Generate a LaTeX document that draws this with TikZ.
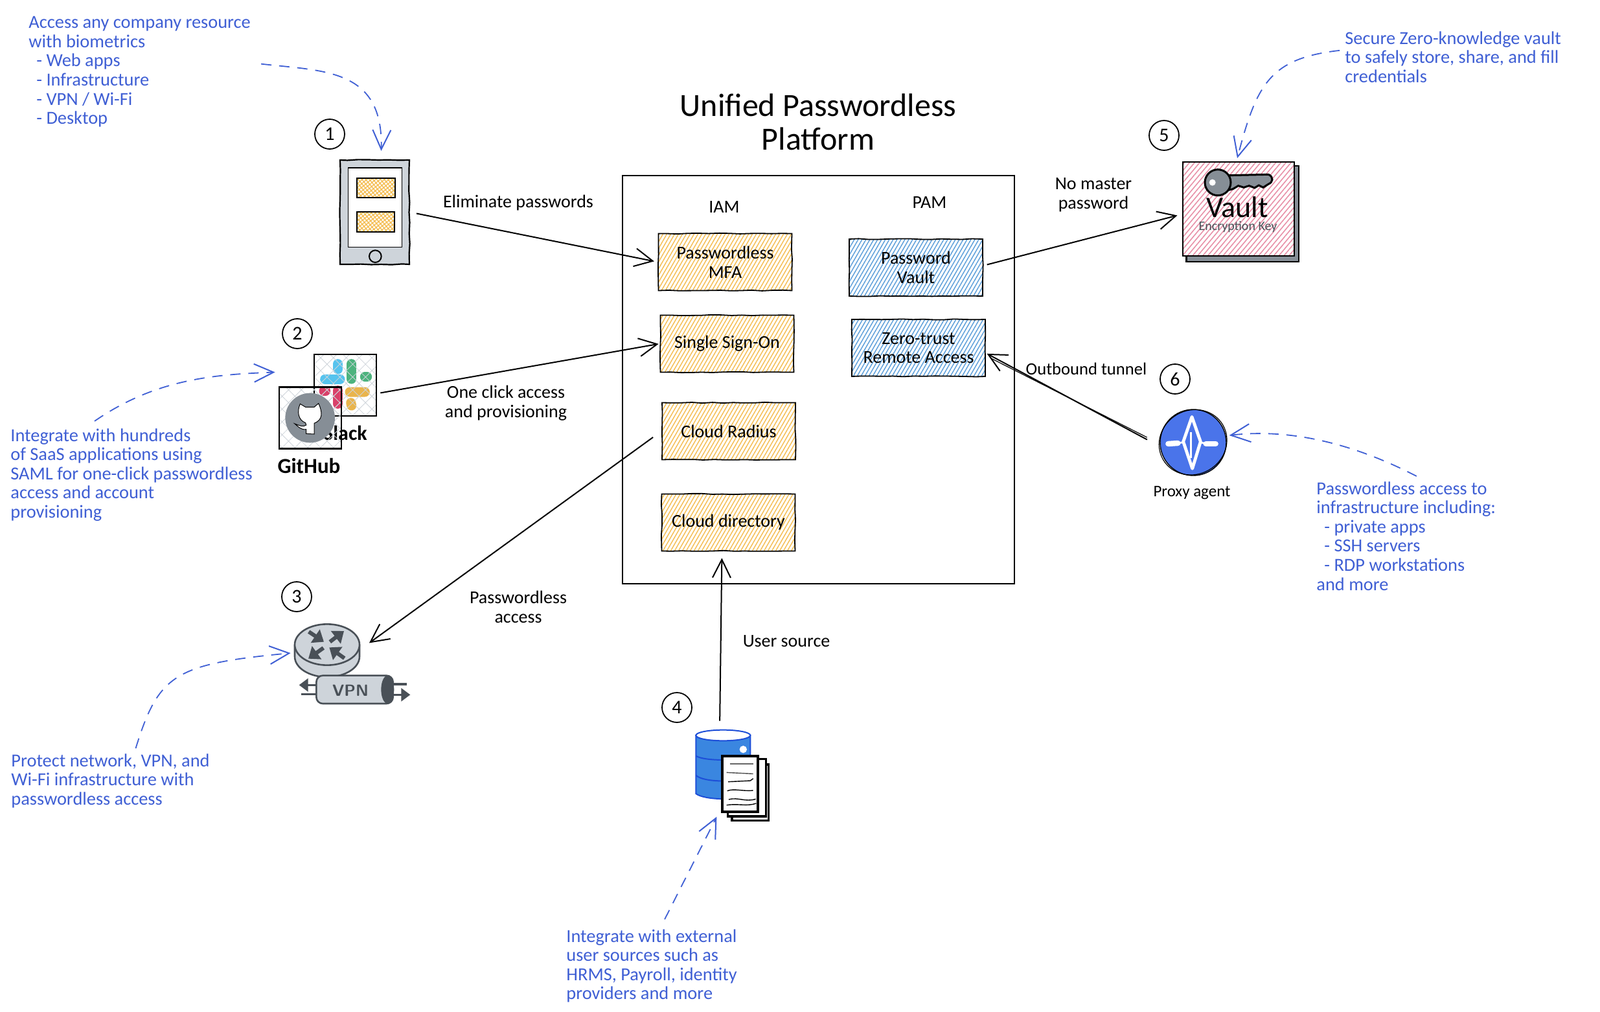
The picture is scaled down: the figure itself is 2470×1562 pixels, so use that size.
\documentclass[tikz,border=0pt]{standalone}
\usepackage{fontspec}
\setmainfont{Carlito}
\usetikzlibrary{arrows.meta,decorations.pathmorphing,patterns.meta}
\definecolor{hatchorange}{HTML}{F5BE55}
\definecolor{hatchblue}{HTML}{5FA0DA}
\definecolor{hatchpink}{HTML}{E891A8}
\definecolor{notecolor}{HTML}{3F5FD4}
\definecolor{iconfill}{HTML}{CED4DA}
\definecolor{icondark}{HTML}{495057}
\definecolor{catgray}{HTML}{868E96}
\definecolor{proxyblue}{HTML}{4A74EA}
\definecolor{dbblue}{HTML}{3A86E0}
\definecolor{dbline}{HTML}{1D4ED8}
\definecolor{slackblue}{HTML}{56C3EE}
\definecolor{slackgreen}{HTML}{4DB37E}
\definecolor{slackyellow}{HTML}{E9B44C}
\definecolor{slackred}{HTML}{D9416A}
\tikzset{
  sketch/.style={decorate,decoration={random steps,segment length=8pt,amplitude=.35pt}},
  txt/.style={font=\fontsize{14}{14.8}\selectfont,align=center,inner sep=0pt},
  hatchbox/.style={txt,draw=black,line width=.9pt,sketch,minimum width=103pt,minimum height=44pt,
    pattern={Lines[angle=60,distance=2.6pt,line width=.75pt]}},
  iambox/.style={hatchbox,pattern color=hatchorange},
  pambox/.style={hatchbox,pattern color=hatchblue},
  numcirc/.style={txt,draw=black,circle,line width=.9pt,minimum size=23pt,font=\fontsize{15}{15}\selectfont},
  note/.style={txt,anchor=north west,align=left,text=notecolor,font=\fontsize{14.2}{14.8}\selectfont},
  conn/.style={draw=black,line width=1pt,-{Straight Barb[length=14pt,width=14pt]}},
  noteline/.style={draw=notecolor,line width=.9pt,dash pattern=on 8pt off 6pt,
    -{Straight Barb[length=15pt,width=14pt,line width=1pt]}},
  zm/.style={shift={(#1)},x=.16667pt,y=-.16667pt},
  crossorange/.style={draw=black,line width=1pt,pattern={Hatch[angle=40,distance=2.2pt,line width=.7pt]},pattern color=hatchorange},
  crossgray/.style={draw=black,line width=1.2pt,pattern={Hatch[angle=45,distance=7pt,line width=.4pt]},pattern color=iconfill},
}
\begin{document}
\begin{tikzpicture}[x=.5pt,y=-.5pt]
  \useasboundingbox (0,0) rectangle (2470,1562);

  \node[draw=black,line width=.8pt,minimum width=302.5pt,minimum height=315pt] (platform) at (1263.5,586) {};
  \node[txt,font=\fontsize{25}{26}\selectfont] (title) at (1263,188) {Unified Passwordless\\Platform};
  \node[txt] (iam) at (1118,320) {IAM};
  \node[txt] (pam) at (1435,313) {PAM};

  \node[iambox] (mfa) at (1119.5,404.5) {Passwordless\\MFA};
  \node[iambox] (sso) at (1122.5,530.5) {Single Sign-On};
  \node[iambox] (radius) at (1125,665.5) {Cloud Radius};
  \node[iambox] (directory) at (1124.5,806.5) {Cloud directory};
  \node[pambox] (pvault) at (1414,413) {Password\\Vault};
  \node[pambox] (zerotrust) at (1418,537) {Zero-trust\\Remote Access};

  % tablet
  \node[draw=black,fill=iconfill,line width=1.1pt,sketch,minimum width=53.5pt,minimum height=80.5pt] (tablet) at (578.5,327.5) {};
  \begin{scope}[zm={500,190}]
    \draw[fill=white,line width=.8pt] (113,207) rectangle (362,575);
    \draw[crossorange] (152,254) rectangle (330,345);
    \draw[crossorange] (152,410) rectangle (328,505);
    \draw[line width=1pt] (238,617) circle[radius=28];
  \end{scope}
  \node[numcirc] (n1) at (509,207) {1};

  % slack and github
  \begin{scope}[zm={400,480},line cap=round]
    \draw[line width=7.5pt,color=slackblue] (365,245) -- (365,270) (305,315) -- (375,315);
    \draw[line width=7.5pt,color=slackgreen] (428,245) -- (428,315) (490,305) -- (500,305);
    \draw[line width=7.5pt,color=slackyellow] (420,375) -- (490,375) (425,425) -- (428,438);
    \draw[line width=7.5pt,color=slackred] (300,370) -- (308,370) (365,368) -- (365,430);
  \end{scope}
  \node[crossgray,minimum width=48pt,minimum height=47.5pt] (slack) at (533,594.5) {};
  \node[txt,font=\bfseries\fontsize{16}{16}\selectfont] (slacklabel) at (533,668) {Slack};
  \node[crossgray,minimum width=48pt,minimum height=47.5pt] (github) at (479,645) {};
  \begin{scope}[zm={400,480}]
    \fill[catgray] (236,495) circle[radius=115];
    \draw[fill=white,line width=.5pt] (190,430) -- (215,445) -- (255,445) -- (275,428)
      .. controls (295,470) and (295,505) .. (255,520) -- (255,570) -- (218,568) -- (218,548)
      .. controls (195,552) and (180,535) .. (165,522) .. controls (185,530) and (205,540) .. (218,528)
      -- (215,518) .. controls (180,505) and (175,465) .. (190,430) -- cycle;
  \end{scope}
  \node[txt,font=\bfseries\fontsize{16.5}{16.5}\selectfont] (githublabel) at (477,719) {GitHub};
  \node[numcirc] (n2) at (459,515) {2};

  % router and vpn tube
  \node[minimum width=50pt,minimum height=41pt,inner sep=0pt] (router) at (505,1003) {};
  \begin{scope}[zm={420,900},draw=icondark,line width=1.3pt]
    \draw[fill=iconfill] (105,290) -- (105,340) arc[start angle=180,end angle=0,x radius=150,y radius=95] -- (405,290) -- cycle;
    \draw[fill=iconfill] (255,285) ellipse[x radius=150,y radius=95];
    \draw[line width=3pt,-{Triangle[length=8pt,width=12pt]}] (170,225) -- (240,272);
    \draw[line width=3pt,-{Triangle[length=8pt,width=12pt]}] (268,272) -- (333,222);
    \draw[line width=3pt,-{Triangle[length=8pt,width=12pt]}] (238,300) -- (168,350);
    \draw[line width=3pt,-{Triangle[length=8pt,width=12pt]}] (335,348) -- (265,298);
    \draw[line width=1.6pt,-{Triangle[length=7pt,width=10pt]}] (205,472) -- (125,472);
    \draw[line width=1.6pt] (205,515) -- (135,515);
    \draw[line width=1.6pt] (560,468) -- (625,468);
    \draw[line width=1.6pt,-{Triangle[length=7pt,width=10pt]}] (560,517) -- (640,517);
    \draw[fill=iconfill,rounded corners=5pt] (205,428) rectangle (560,558);
    \fill[icondark] (535,493) ellipse[x radius=30,y radius=65];
  \end{scope}
  \node[inner sep=0pt,text=icondark,font=\sffamily\bfseries\fontsize{12.5}{13}\selectfont] (vpn) at (541,1066) {VPN};
  \node[numcirc] (n3) at (458,921) {3};

  % database and sheets
  \node[minimum width=42pt,minimum height=54pt,inner sep=0pt] (dbank) at (1116,1179) {};
  \begin{scope}[zm={1030,1060},draw=dbline,line width=1pt]
    \draw[fill=dbblue] (133,225) -- (133,495) .. controls (170,525) and (340,530) .. (385,495) -- (385,225) -- cycle;
    \draw[fill=white] (259,225) ellipse[x radius=126,y radius=25];
    \draw (133,320) .. controls (170,345) and (340,345) .. (385,320);
    \draw (133,410) .. controls (170,445) and (340,445) .. (385,410);
    \fill[white] (352,290) circle[radius=17];
    \draw[fill=white,draw=black,line width=1.6pt] (300,360) rectangle (470,620);
    \draw[fill=white,draw=black,line width=1.6pt] (280,335) rectangle (458,600);
  \end{scope}
  \node[draw=black,fill=white,line width=1.6pt,minimum width=27.5pt,minimum height=43pt,inner sep=0pt] (sheets) at (1142.5,1210) {};
  \begin{scope}[zm={1030,1060},black,line width=.7pt]
    \draw[line width=1pt,black!60] (290,358) -- (400,358);
    \draw[black!70] (275,397) -- (398,403);
    \draw (282,440) -- (385,435) -- (398,425);
    \draw (278,482) .. controls (310,470) and (350,485) .. (398,480);
    \draw (285,522) .. controls (330,510) and (360,535) .. (410,520);
    \draw (275,548) .. controls (330,540) and (370,555) .. (412,540);
  \end{scope}
  \node[numcirc] (n4) at (1045,1092) {4};

  % vault
  \begin{scope}[zm={1750,180}]
    \draw[fill=catgray,line width=1.2pt] (245,228) rectangle (765,672);
  \end{scope}
  \node[draw=black,fill=white,line width=1.1pt,minimum width=86pt,minimum height=72.5pt] at (1912,322.5) {};
  \node[draw=black,line width=1.1pt,minimum width=86pt,minimum height=72.5pt,
    pattern={Lines[angle=50,distance=3pt,line width=.8pt]},pattern color=hatchpink] (vaultbox) at (1912,322.5) {};
  \begin{scope}[zm={1750,180},line width=1.5pt]
    \draw[fill=catgray] (440,272) -- (625,268) .. controls (650,280) and (645,305) .. (625,312)
      -- (600,328) -- (580,318) -- (560,330) -- (535,320) -- (510,328) -- (485,320) -- (460,335) -- (440,340) -- cycle;
    \draw[fill=catgray] (390,305) circle[radius=60];
    \fill[white] (365,305) circle[radius=15];
  \end{scope}
  \node[txt,font=\fontsize{23}{23}\selectfont] (vaulttext) at (1910,320) {Vault};
  \node[txt,text=icondark,font=\fontsize{10}{10}\selectfont] (keytext) at (1911,350) {Encryption Key};
  \node[numcirc] (n5) at (1797,209) {5};

  % proxy
  \node[draw=black,fill=proxyblue,circle,line width=.7pt,minimum size=51pt,inner sep=0pt] (proxy) at (1842,683) {};
  \begin{scope}[zm={1720,560}]
    \draw[rotate around={30:(365,368)},line width=.6pt] (365,368) ellipse[x radius=160,y radius=148];
    \draw[white,fill=proxyblue,line width=2.4pt,line join=round] (360,250) -- (400,365) -- (362,490) -- (320,365) -- cycle;
    \draw[white,line width=1.4pt] (355,320) -- (355,440);
    \draw[white,line width=4.2pt,line cap=round] (250,375) -- (295,372);
    \draw[white,line width=4.2pt,line cap=round] (425,375) -- (470,375);
    \draw[white,line width=1.4pt] (295,372) -- (320,368) (400,368) -- (425,375);
  \end{scope}
  \node[txt,font=\fontsize{12.5}{14}\selectfont] (proxylabel) at (1840,761) {Proxy agent};
  \node[numcirc] (n6) at (1814,585) {6};

  % connectors
  \draw[conn,shorten <=5pt,shorten >=3pt] (tablet.east) -- (mfa.west);
  \draw[conn,shorten <=3pt,shorten >=1pt] ([yshift=-6.5pt]slack.east) -- (sso.west);
  \draw[conn,shorten <=8pt,shorten >=9pt] (radius.west) -- (router.east);
  \draw[conn,shorten <=6pt,shorten >=5pt] ([xshift=-2.5pt]dbank.north) -- ([xshift=-5pt]directory.south);
  \draw[conn,shorten <=3pt,shorten >=4pt] ([yshift=1.5pt]pvault.east) -- ([yshift=-4pt]vaultbox.west);
  \draw[conn,shorten <=11pt,shorten >=1pt] ([yshift=-3pt]proxy.west) -- ([yshift=-4pt]zerotrust.east);
  \draw[black,line width=.6pt,shorten <=11pt,shorten >=4pt] ([yshift=-1pt]proxy.west) -- ([yshift=-6pt]zerotrust.east);

  \node[txt] (elim) at (800,313) {Eliminate passwords};
  \node[txt] (click) at (781,622) {One click access\\and provisioning};
  \node[txt] (pwaccess) at (800,937) {Passwordless\\access};
  \node[txt] (usersrc) at (1214,990) {User source};
  \node[txt] (nomaster) at (1688,301) {No master\\password};
  \node[txt,font=\fontsize{13.3}{14.8}\selectfont] (tunnel) at (1677,569) {Outbound tunnel};

  % notes
  \node[note] (note1) at (44,25) {Access any company resource\\with biometrics\\\hspace*{6pt}- Web apps\\\hspace*{6pt}- Infrastructure\\\hspace*{6pt}- VPN / Wi-Fi\\\hspace*{6pt}- Desktop};
  \node[note] (note2) at (16,661) {Integrate with hundreds\\of SaaS applications using\\SAML for one-click passwordless\\access and account\\provisioning};
  \node[note] (note3) at (17,1163) {Protect network, VPN, and\\Wi-Fi infrastructure with\\passwordless access};
  \node[note] (note4) at (874,1434) {Integrate with external\\user sources such as\\HRMS, Payroll, identity\\providers and more};
  \node[note] (note5) at (2076,48) {Secure Zero-knowledge vault\\to safely store, share, and fill\\credentials};
  \node[note] (note6) at (2032,743) {Passwordless access to\\infrastructure including:\\\hspace*{6pt}- private apps\\\hspace*{6pt}- SSH servers\\\hspace*{6pt}- RDP workstations\\and more};

  \draw[noteline,shorten <=8pt] ([yshift=7pt]note1.east) .. controls (500,110) and (592,105) .. ([shift={(5pt,6.5pt)}]tablet.north);
  \draw[noteline] ([shift={(65pt,5.5pt)}]note2.north west) .. controls (240,585) and (330,578) .. ([shift={(-30pt,10pt)}]slack.west);
  \draw[noteline] ([shift={(19.5pt,4pt)}]note3.north) .. controls (245,1040) and (270,1025) .. ([shift={(-3pt,-2.5pt)}]router.west);
  \draw[noteline] ([shift={(10pt,7.5pt)}]note4.north) -- ([shift={(-3.5pt,-3pt)}]sheets.south west);
  \draw[noteline,shorten <=4pt] ([yshift=5.5pt]note5.west) .. controls (1960,90) and (1940,130) .. ([shift={(-1pt,2.5pt)}]vaultbox.north);
  \draw[noteline] ([shift={(8pt,4pt)}]note6.north) .. controls (2100,690) and (2000,660) .. ([shift={(2pt,5.5pt)}]proxy.east);
\end{tikzpicture}
\end{document}
